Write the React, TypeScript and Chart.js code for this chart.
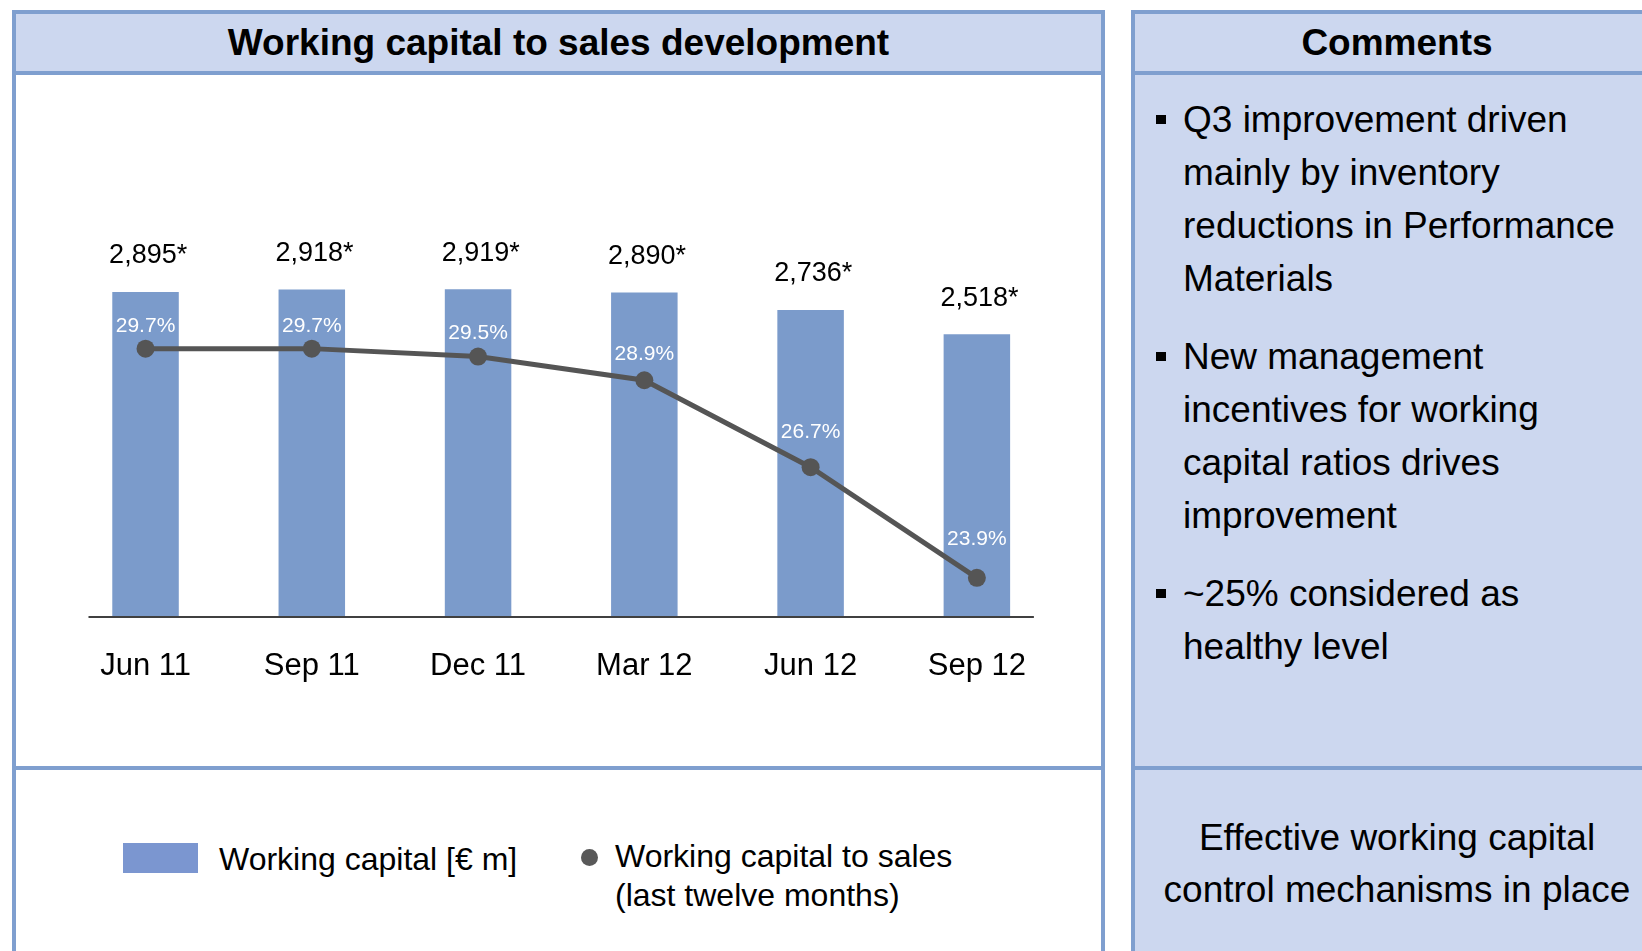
import React, { useEffect, useRef } from "react";
import { Chart, registerables } from "chart.js";

Chart.register(...registerables);

// ---- data ----
const categories = ["Jun 11", "Sep 11", "Dec 11", "Mar 12", "Jun 12", "Sep 12"];
const workingCapital = [2895, 2918, 2919, 2890, 2736, 2518];
const wcToSales = [29.7, 29.7, 29.5, 28.9, 26.7, 23.9];
const barLabelSuffix = "*";

const commentBullets = [
  ["Q3 improvement driven", "mainly by inventory", "reductions in Performance", "Materials"],
  ["New management", "incentives for working", "capital ratios drives", "improvement"],
  ["~25% considered as", "healthy level"],
];
const conclusionLines = ["Effective working capital", "control mechanisms in place"];

// ---- styles ----
const FONT = "'Liberation Sans', Arial, Helvetica, sans-serif";
const BAR_COLOR = "#7B9BCB";
const LEGEND_BAR_COLOR = "#7B96D0";
const LINE_COLOR = "#555555";
const BORDER = "#7F9FCF";
const PANEL = "#CCD7EF";

const labelsPlugin = {
  id: "customLabels",
  afterDatasetsDraw(chart: any) {
    const ctx = chart.ctx;
    const xs = chart.scales.x;
    const area = chart.chartArea;
    const step = xs.getPixelForValue(1) - xs.getPixelForValue(0);
    ctx.save();
    // baseline axis
    ctx.strokeStyle = "#404040";
    ctx.lineWidth = 2;
    ctx.beginPath();
    ctx.moveTo(xs.getPixelForValue(0) - step * 0.343, area.bottom);
    ctx.lineTo(xs.getPixelForValue(categories.length - 1) + step * 0.343, area.bottom);
    ctx.stroke();

    // bar value labels
    const barMeta = chart.getDatasetMeta(0);
    ctx.font = `27px ${FONT}`;
    ctx.fillStyle = "#000000";
    ctx.textBaseline = "middle";
    ctx.textAlign = "left";
    const starW = ctx.measureText(barLabelSuffix).width;
    barMeta.data.forEach((el: any, i: number) => {
      const num = workingCapital[i].toLocaleString("en-US");
      const w = ctx.measureText(num).width;
      ctx.fillText(num + barLabelSuffix, el.x - (w + starW / 2) / 2, el.y - 36);
    });

    // line value labels
    const lineMeta = chart.getDatasetMeta(1);
    ctx.font = `21px ${FONT}`;
    ctx.fillStyle = "#FFFFFF";
    ctx.textAlign = "center";
    lineMeta.data.forEach((el: any, i: number) => {
      const prev = i > 0 ? lineMeta.data[i - 1] : el;
      const drop = Math.max(0, el.y - prev.y);
      const off = 22 + drop * 0.15;
      ctx.fillText(wcToSales[i].toFixed(1) + "%", el.x, el.y - off);
    });
    ctx.restore();
  },
};

function WcChart() {
  const ref = useRef<HTMLCanvasElement | null>(null);
  useEffect(() => {
    if (!ref.current) return;
    const chart = new Chart(ref.current, {
      type: "bar",
      data: {
        labels: categories,
        datasets: [
          {
            type: "bar",
            label: "Working capital [€ m]",
            data: workingCapital,
            backgroundColor: BAR_COLOR,
            borderWidth: 0,
            barPercentage: 0.4,
            categoryPercentage: 1.0,
            yAxisID: "y",
            order: 1,
          } as any,
          {
            type: "line",
            label: "Working capital to sales (last twelve months)",
            data: wcToSales,
            borderColor: LINE_COLOR,
            backgroundColor: LINE_COLOR,
            borderWidth: 5,
            pointRadius: 9,
            pointBorderWidth: 0,
            pointBackgroundColor: LINE_COLOR,
            tension: 0,
            yAxisID: "y2",
            order: 0,
          } as any,
        ],
      },
      options: {
        responsive: false,
        animation: false,
        devicePixelRatio: 1,
        layout: { padding: { left: 62.4, right: 582, top: 168, bottom: 236 } },
        plugins: {
          legend: { display: false },
          tooltip: { enabled: false },
          title: { display: false },
        },
        scales: {
          x: {
            type: "category",
            offset: true,
            grid: { display: false, drawTicks: false },
            border: { display: false },
            ticks: {
              color: "#000000",
              font: { family: FONT, size: 31 },
              padding: 30.4,
              maxRotation: 0,
              autoSkip: false,
            },
          },
          y: { type: "linear", min: 0, max: 4000, display: false },
          y2: { type: "linear", min: 22.91, max: 34.27, display: false, position: "right" },
        },
      },
      plugins: [labelsPlugin],
    });
    return () => chart.destroy();
  }, []);
  return (
    <canvas
      ref={ref}
      width={1642}
      height={951}
      style={{ position: "absolute", left: 0, top: 0, width: 1642, height: 951, zIndex: 2, pointerEvents: "none" }}
    />
  );
}

export default function App() {
  const header: React.CSSProperties = {
    height: 57,
    background: PANEL,
    borderBottom: `4px solid ${BORDER}`,
    display: "flex",
    alignItems: "center",
    justifyContent: "center",
    fontWeight: "bold",
    fontSize: 37,
    color: "#000",
    whiteSpace: "nowrap",
  };
  return (
    <div
      style={{
        position: "fixed",
        left: 0,
        top: 0,
        width: 1642,
        height: 951,
        overflow: "hidden",
        background: "#FFFFFF",
        fontFamily: FONT,
        color: "#000",
      }}
    >
      {/* left panel */}
      <div
        style={{
          position: "absolute",
          left: 12,
          top: 10,
          width: 1093,
          height: 1000,
          boxSizing: "border-box",
          border: `4px solid ${BORDER}`,
          background: "#FFFFFF",
        }}
      >
        <div style={header}>Working capital to sales development</div>
        <div style={{ position: "absolute", left: 0, right: 0, top: 752, height: 4, background: BORDER }} />
      </div>

      {/* right panel */}
      <div
        style={{
          position: "absolute",
          left: 1131,
          top: 10,
          width: 532,
          height: 1000,
          boxSizing: "border-box",
          border: `4px solid ${BORDER}`,
          background: PANEL,
        }}
      >
        <div style={header}>Comments</div>
        <div style={{ position: "absolute", left: 21, top: 78.5 }}>
          {commentBullets.map((lines, pi) => (
            <div key={pi} style={{ position: "relative", paddingLeft: 27, marginBottom: 25 }}>
              <div
                style={{
                  position: "absolute",
                  left: 0,
                  top: 22,
                  width: 9.5,
                  height: 9.5,
                  background: "#000",
                }}
              />
              {lines.map((l, li) => (
                <div key={li} style={{ height: 53, lineHeight: "53px", fontSize: 37, whiteSpace: "nowrap" }}>
                  {l}
                </div>
              ))}
            </div>
          ))}
        </div>
        <div style={{ position: "absolute", left: 0, right: 0, top: 752, height: 4, background: BORDER }} />
        <div style={{ position: "absolute", left: 0, right: 0, top: 798, textAlign: "center" }}>
          {conclusionLines.map((l, i) => (
            <div key={i} style={{ fontSize: 37, lineHeight: "52px", whiteSpace: "nowrap" }}>
              {l}
            </div>
          ))}
        </div>
      </div>

      {/* legend */}
      <div style={{ position: "absolute", left: 123, top: 843, width: 75, height: 30, background: LEGEND_BAR_COLOR }} />
      <div style={{ position: "absolute", left: 219, top: 839, fontSize: 32, lineHeight: "40px", whiteSpace: "nowrap" }}>
        Working capital [€ m]
      </div>
      <div
        style={{
          position: "absolute",
          left: 581,
          top: 849,
          width: 17,
          height: 17,
          borderRadius: "50%",
          background: "#595959",
        }}
      />
      <div style={{ position: "absolute", left: 615, top: 837, fontSize: 32, lineHeight: "38.5px", whiteSpace: "nowrap" }}>
        <div>Working capital to sales</div>
        <div>(last twelve months)</div>
      </div>

      <WcChart />
    </div>
  );
}
